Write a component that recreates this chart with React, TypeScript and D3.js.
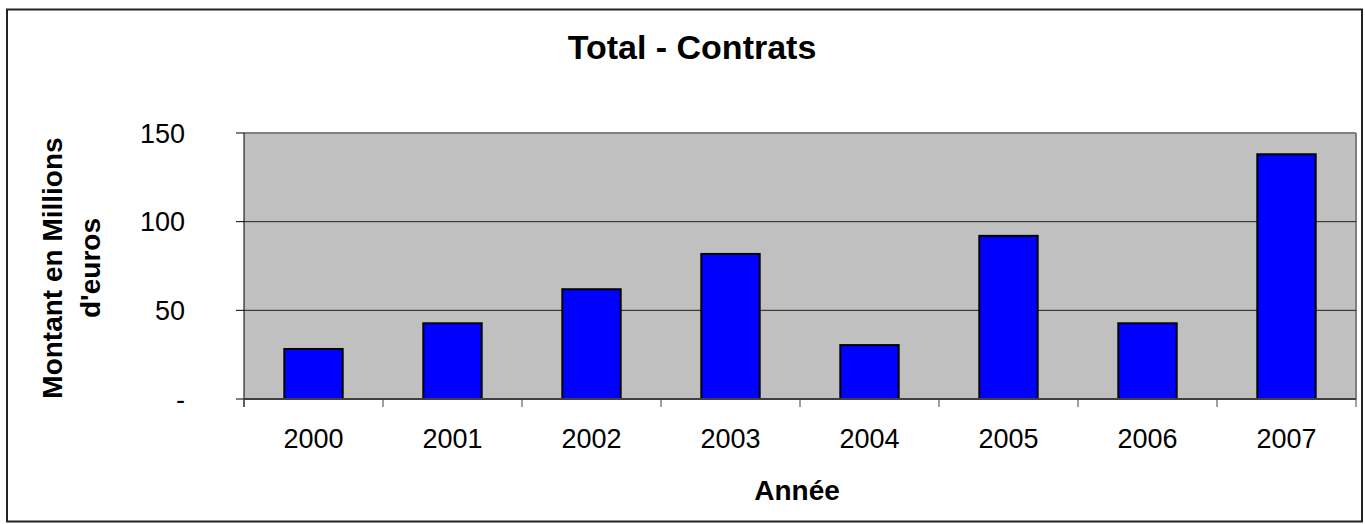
import React from 'react';
import * as d3 from 'd3';

const years = ['2000', '2001', '2002', '2003', '2004', '2005', '2006', '2007'];
const amounts = [28.2, 42.7, 61.9, 81.8, 30.4, 92, 42.7, 138];
const yTicks = [0, 50, 100, 150];

const W = 1365;
const H = 524;
const plot = { left: 244, right: 1356, top: 133, bottom: 399 };
const font = '"Liberation Sans", Arial, sans-serif';

export default function App() {
    const gap = 0.58;
    const x = d3.scaleBand()
        .domain(years)
        .range([plot.left, plot.right])
        .paddingInner(gap)
        .paddingOuter(gap / 2);

    const y = d3.scaleLinear()
        .domain([0, 150])
        .range([plot.bottom, plot.top]);

    // category boundaries for the x ticks
    const bounds = years.map(d => (x(d) as number) - x.step() * gap / 2);
    bounds.push(plot.right);

    const fmt = (v: number) => (v === 0 ? '-' : String(v));

    return (
        <svg width={W} height={H} style={{ position: 'absolute', left: 0, top: 0 }}>
            <rect x={0} y={0} width={W} height={H} fill="#fff" />
            <rect x={7} y={9.5} width={1355} height={512} fill="none" stroke="#222" strokeWidth={2} />

            <text x={692} y={59} textAnchor="middle" fontFamily={font} fontWeight="bold" fontSize={34}>
                Total - Contrats
            </text>

            <rect x={plot.left} y={plot.top} width={plot.right - plot.left} height={plot.bottom - plot.top} fill="#c0c0c0" />
            <line x1={plot.left} x2={plot.right} y1={plot.top} y2={plot.top} stroke="#808080" strokeWidth={2} />
            <line x1={plot.right} x2={plot.right} y1={plot.top} y2={plot.bottom} stroke="#808080" strokeWidth={2} />

            {yTicks.filter(t => t > 0 && t < 150).map(t => (
                <line key={'g' + t} x1={plot.left} x2={plot.right} y1={y(t)} y2={y(t)} stroke="#202020" strokeWidth={1} />
            ))}

            {years.map((d, i) => (
                <rect
                    key={d}
                    x={x(d)}
                    y={y(amounts[i])}
                    width={x.bandwidth()}
                    height={plot.bottom - y(amounts[i])}
                    fill="#0000ff"
                    stroke="#000"
                    strokeWidth={2}
                />
            ))}

            {/* y axis */}
            <line x1={plot.left} x2={plot.left} y1={plot.top} y2={plot.bottom + 8} stroke="#000" strokeWidth={1} />
            {yTicks.map(t => (
                <g key={'y' + t}>
                    <line x1={plot.left - 8} x2={plot.left} y1={y(t)} y2={y(t)} stroke="#000" strokeWidth={1} />
                    <text x={185} y={y(t)} dy="0.36em" textAnchor="end" fontFamily={font} fontSize={27}>
                        {fmt(t)}
                    </text>
                </g>
            ))}

            {/* x axis */}
            <line x1={plot.left} x2={plot.right} y1={plot.bottom} y2={plot.bottom} stroke="#404040" strokeWidth={2} />
            {bounds.map((b, i) => (
                <line key={'xt' + i} x1={b} x2={b} y1={plot.bottom} y2={plot.bottom + 8} stroke="#404040" strokeWidth={1} />
            ))}
            {years.map(d => (
                <text key={'xl' + d} x={(x(d) as number) + x.bandwidth() / 2} y={448} textAnchor="middle" fontFamily={font} fontSize={27}>
                    {d}
                </text>
            ))}

            <text x={797} y={500} textAnchor="middle" fontFamily={font} fontWeight="bold" fontSize={28}>
                Année
            </text>

            <g transform={`translate(62, ${(plot.top + plot.bottom) / 2 + 2}) rotate(-90)`}>
                <text x={0} y={0} textAnchor="middle" fontFamily={font} fontWeight="bold" fontSize={28}>
                    Montant en Millions
                </text>
                <text x={0} y={38} textAnchor="middle" fontFamily={font} fontWeight="bold" fontSize={28}>
                    d'euros
                </text>
            </g>
        </svg>
    );
}
